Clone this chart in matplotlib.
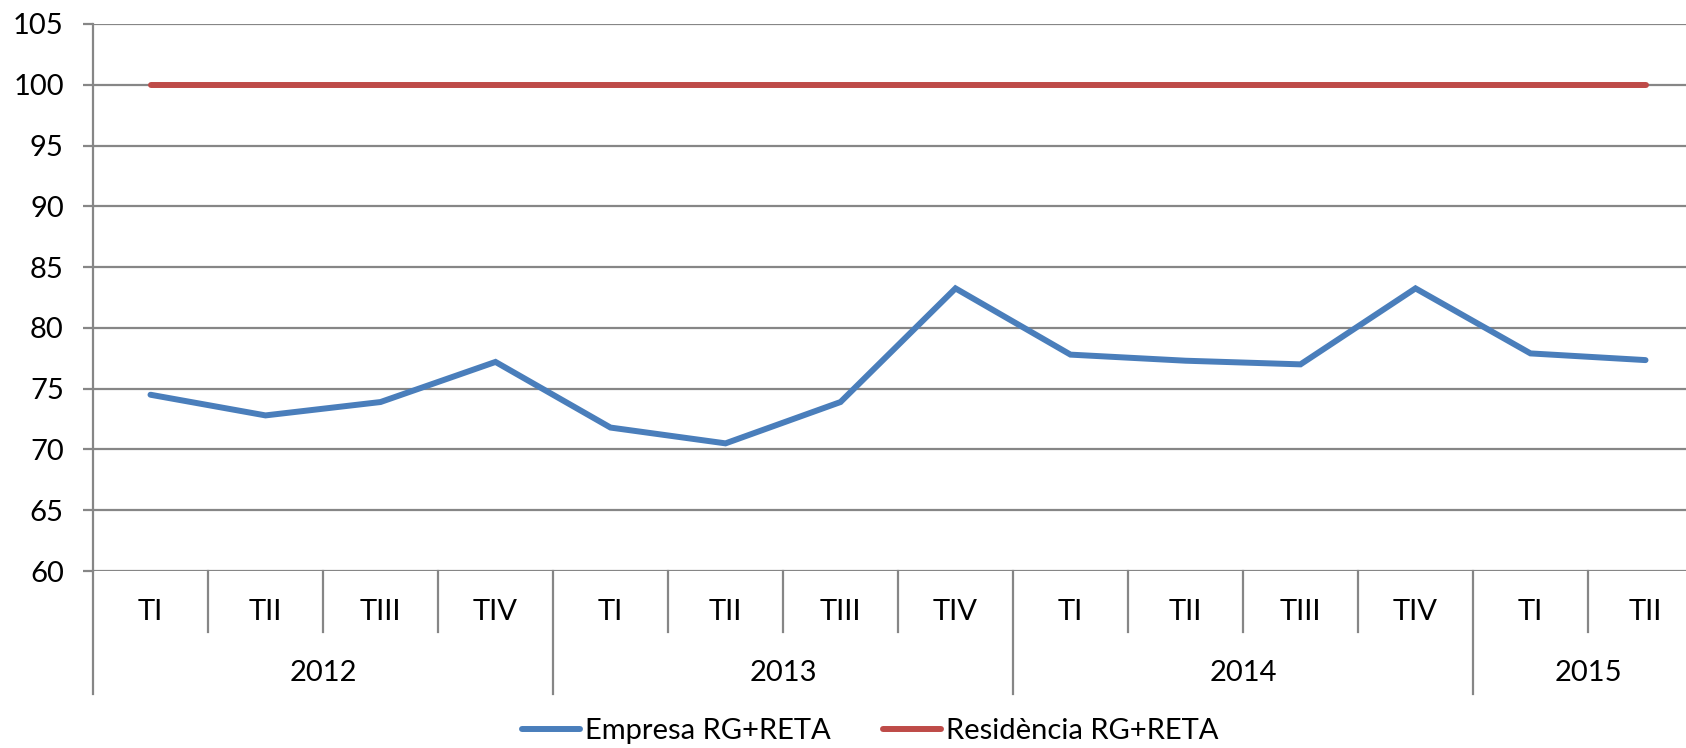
import matplotlib.pyplot as plt
import matplotlib.transforms as mtransforms

plt.rcParams['font.family'] = ['Lato', 'DejaVu Sans']

quarters = ['TI', 'TII', 'TIII', 'TIV'] * 3 + ['TI', 'TII']
years = ['2012', '2013', '2014', '2015']
year_counts = [4, 4, 4, 2]
empresa = [74.5, 72.8, 73.9, 77.2, 71.8, 70.5, 73.9, 83.25,
           77.8, 77.3, 77.0, 83.25, 77.9, 77.35]
residencia = [100] * 14

W, H = 1686, 748
grid_col = '#868686'
fig = plt.figure(figsize=(W / 100, H / 100), dpi=100)
# plot area runs slightly past the right edge, as in the reference
ax = fig.add_axes([93 / W, 1 - 571 / H, (1703 - 93) / W, (571 - 24) / H])

x = list(range(len(quarters)))
ax.plot(x, empresa, color='#4A7EBB', lw=4.3, solid_capstyle='round',
        solid_joinstyle='miter', label='Empresa RG+RETA', zorder=3)
ax.plot(x, residencia, color='#BE4B48', lw=4.3, solid_capstyle='round',
        label='Residència RG+RETA', zorder=3)

ax.set_xlim(-0.5, len(quarters) - 0.5)
ax.set_ylim(60, 105)
ax.set_yticks(range(60, 106, 5))
ax.yaxis.grid(True, color=grid_col, lw=1.6)
ax.set_axisbelow(True)
ax.set_xticks([])
for s in ['top', 'right', 'bottom']:
    ax.spines[s].set_visible(False)
ax.spines['left'].set_color(grid_col)
ax.spines['left'].set_linewidth(1.6)
ax.tick_params(axis='y', length=7, width=1.6, color=grid_col, pad=14,
               labelsize=21)

# two-level category axis (quarters / years)
trans = mtransforms.blended_transform_factory(ax.transData, fig.transFigure)
y_axis = 1 - 571 / H
y_q_end = 1 - 632 / H
y_year_end = 1 - 694 / H
for i, q in enumerate(quarters):
    ax.text(i, 1 - 612 / H, q, transform=trans, ha='center', va='center',
            fontsize=21)

starts = [0]
for c in year_counts:
    starts.append(starts[-1] + c)
for k, yr in enumerate(years):
    a, b = starts[k], starts[k + 1]
    ax.text((a + b - 1) / 2, 1 - 673 / H, yr, transform=trans,
            ha='center', va='center', fontsize=21)
    ax.plot([a - 0.5, a - 0.5], [y_axis, y_year_end], transform=trans,
            color=grid_col, lw=1.6, clip_on=False)
    for j in range(a + 1, b):
        ax.plot([j - 0.5, j - 0.5], [y_axis, y_q_end], transform=trans,
                color=grid_col, lw=1.6, clip_on=False)

fig.legend(loc='center', bbox_to_anchor=(870 / W, 1 - 731 / H), ncol=2,
           frameon=False, fontsize=21, handlelength=2.0, handletextpad=0.15,
           columnspacing=1.8, borderpad=0.1)

fig.savefig('out.png', dpi=100)
